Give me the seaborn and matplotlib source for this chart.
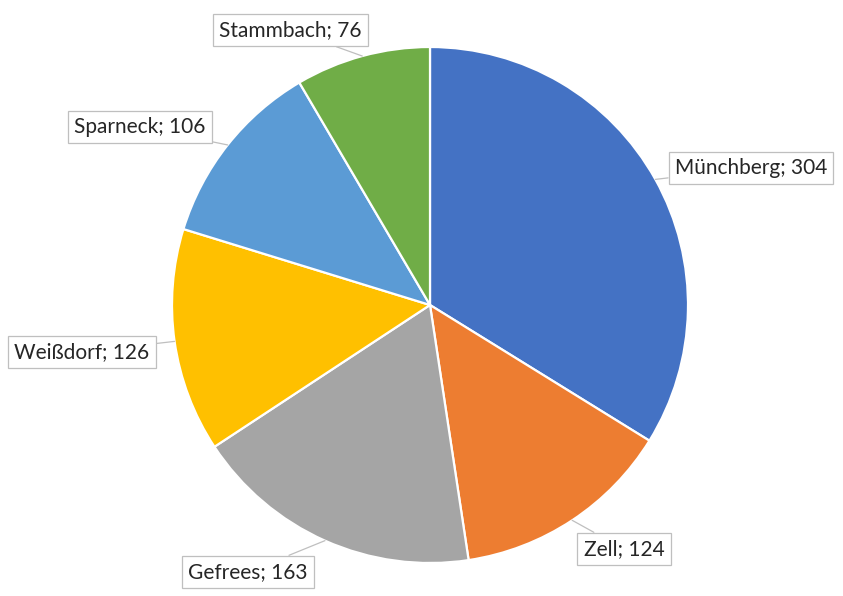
import matplotlib
matplotlib.use("Agg")
import matplotlib.pyplot as plt
import numpy as np
import seaborn as sns

places = ["Münchberg", "Zell", "Gefrees", "Weißdorf", "Sparneck", "Stammbach"]
counts = [304, 124, 163, 126, 106, 76]
colors = ["#4472C4", "#ED7D31", "#A5A5A5", "#FFC000", "#5B9BD5", "#70AD47"]

# label box centres in image pixels
label_px = [(751, 168), (624, 549), (248, 572), (82, 352), (140, 127), (290, 30)]

W, H = 843, 596
CX, CY, R = 430, 305, 258

sns.set_style("white")
plt.rcParams["font.family"] = ["Lato", "DejaVu Sans"]

fig = plt.figure(figsize=(W / 100, H / 100), dpi=100)
ax = fig.add_axes([0, 0, 1, 1])

wedges, _ = ax.pie(
    counts,
    colors=colors,
    startangle=90,
    counterclock=False,
    radius=1,
    wedgeprops=dict(edgecolor="white", linewidth=1.6),
)

# pie() resets the limits, so set them afterwards
ax.set_xlim(-CX / R, (W - CX) / R)
ax.set_ylim(-(H - CY) / R, CY / R)
ax.set_aspect("equal")
ax.axis("off")

for w, name, val, (px, py) in zip(wedges, places, counts, label_px):
    mid = np.deg2rad((w.theta1 + w.theta2) / 2)
    edge = (np.cos(mid), np.sin(mid))
    ax.annotate(
        f"{name}; {val}",
        xy=edge,
        xytext=((px - CX) / R, (CY - py) / R),
        ha="center",
        va="center",
        fontsize=15,
        color="#262626",
        bbox=dict(boxstyle="square,pad=0.3", fc="white", ec="#bfbfbf", lw=0.9),
        arrowprops=dict(arrowstyle="-", color="#bfbfbf", lw=0.9, shrinkA=0, shrinkB=0),
    )

fig.savefig("out.png", dpi=100, facecolor="white")
